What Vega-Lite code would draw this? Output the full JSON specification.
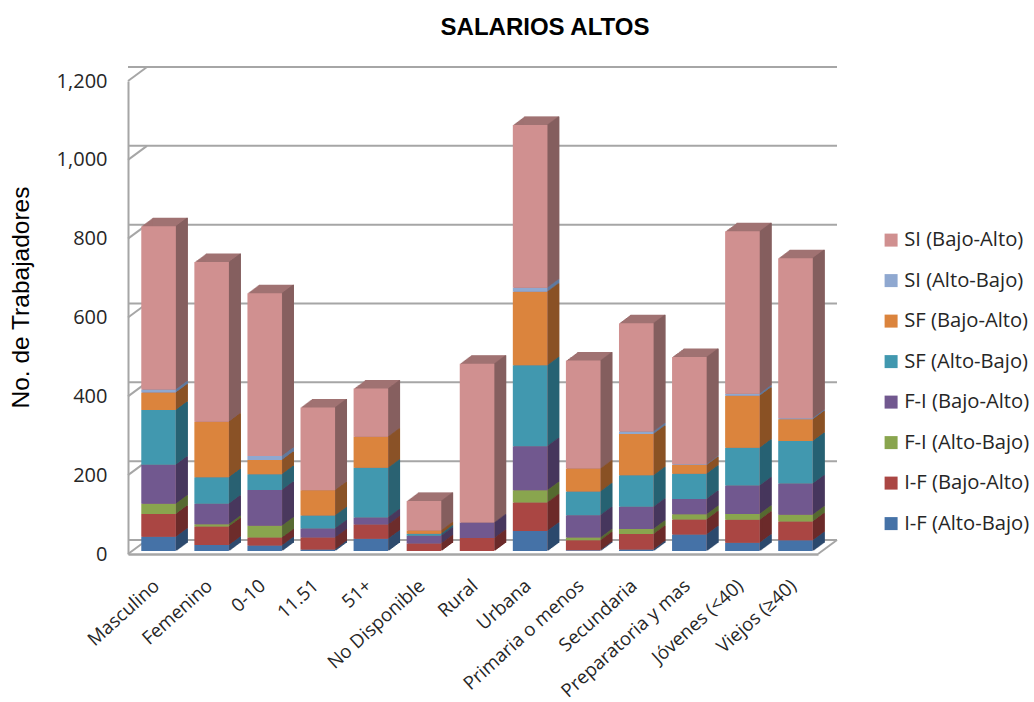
{"$schema":"https://vega.github.io/schema/vega-lite/v6.json","width":690,"height":473,"autosize":{"type":"none"},"padding":{"left":128,"top":81,"right":216,"bottom":148},"background":"white",
"title":{"text":"SALARIOS ALTOS","font":"Liberation Sans","fontSize":24,"fontWeight":"bold","color":"#000000","anchor":"middle","dx":72,"offset":23},
"config":{"view":{"stroke":null},"axis":{"grid":false,"ticks":false}},
"datasets":{
"barras":[
{"categoria":"Masculino","serie":"I-F (Alto-Bajo)","valor":36,"orden":1},{"categoria":"Masculino","serie":"I-F (Bajo-Alto)","valor":58,"orden":2},{"categoria":"Masculino","serie":"F-I (Alto-Bajo)","valor":26,"orden":3},{"categoria":"Masculino","serie":"F-I (Bajo-Alto)","valor":99,"orden":4},{"categoria":"Masculino","serie":"SF (Alto-Bajo)","valor":139,"orden":5},{"categoria":"Masculino","serie":"SF (Bajo-Alto)","valor":44,"orden":6},{"categoria":"Masculino","serie":"SI (Alto-Bajo)","valor":8,"orden":7},{"categoria":"Masculino","serie":"SI (Bajo-Alto)","valor":414,"orden":8},
{"categoria":"Femenino","serie":"I-F (Alto-Bajo)","valor":15,"orden":1},{"categoria":"Femenino","serie":"I-F (Bajo-Alto)","valor":47,"orden":2},{"categoria":"Femenino","serie":"F-I (Alto-Bajo)","valor":6,"orden":3},{"categoria":"Femenino","serie":"F-I (Bajo-Alto)","valor":52,"orden":4},{"categoria":"Femenino","serie":"SF (Alto-Bajo)","valor":67,"orden":5},{"categoria":"Femenino","serie":"SF (Bajo-Alto)","valor":141,"orden":6},{"categoria":"Femenino","serie":"SI (Bajo-Alto)","valor":405,"orden":8},
{"categoria":"0-10","serie":"I-F (Alto-Bajo)","valor":14,"orden":1},{"categoria":"0-10","serie":"I-F (Bajo-Alto)","valor":20,"orden":2},{"categoria":"0-10","serie":"F-I (Alto-Bajo)","valor":30,"orden":3},{"categoria":"0-10","serie":"F-I (Bajo-Alto)","valor":91,"orden":4},{"categoria":"0-10","serie":"SF (Alto-Bajo)","valor":40,"orden":5},{"categoria":"0-10","serie":"SF (Bajo-Alto)","valor":36,"orden":6},{"categoria":"0-10","serie":"SI (Alto-Bajo)","valor":10,"orden":7},{"categoria":"0-10","serie":"SI (Bajo-Alto)","valor":413,"orden":8},
{"categoria":"11.51","serie":"I-F (Alto-Bajo)","valor":4,"orden":1},{"categoria":"11.51","serie":"I-F (Bajo-Alto)","valor":30,"orden":2},{"categoria":"11.51","serie":"F-I (Bajo-Alto)","valor":23,"orden":4},{"categoria":"11.51","serie":"SF (Alto-Bajo)","valor":33,"orden":5},{"categoria":"11.51","serie":"SF (Bajo-Alto)","valor":64,"orden":6},{"categoria":"11.51","serie":"SI (Bajo-Alto)","valor":210,"orden":8},
{"categoria":"51+","serie":"I-F (Alto-Bajo)","valor":31,"orden":1},{"categoria":"51+","serie":"I-F (Bajo-Alto)","valor":36,"orden":2},{"categoria":"51+","serie":"F-I (Bajo-Alto)","valor":18,"orden":4},{"categoria":"51+","serie":"SF (Alto-Bajo)","valor":126,"orden":5},{"categoria":"51+","serie":"SF (Bajo-Alto)","valor":79,"orden":6},{"categoria":"51+","serie":"SI (Bajo-Alto)","valor":122,"orden":8},
{"categoria":"No Disponible","serie":"I-F (Bajo-Alto)","valor":19,"orden":2},{"categoria":"No Disponible","serie":"F-I (Bajo-Alto)","valor":20,"orden":4},{"categoria":"No Disponible","serie":"SF (Alto-Bajo)","valor":5,"orden":5},{"categoria":"No Disponible","serie":"SF (Bajo-Alto)","valor":8,"orden":6},{"categoria":"No Disponible","serie":"SI (Bajo-Alto)","valor":75,"orden":8},
{"categoria":"Rural","serie":"I-F (Bajo-Alto)","valor":33,"orden":2},{"categoria":"Rural","serie":"F-I (Bajo-Alto)","valor":39,"orden":4},{"categoria":"Rural","serie":"SI (Bajo-Alto)","valor":403,"orden":8},
{"categoria":"Urbana","serie":"I-F (Alto-Bajo)","valor":51,"orden":1},{"categoria":"Urbana","serie":"I-F (Bajo-Alto)","valor":72,"orden":2},{"categoria":"Urbana","serie":"F-I (Alto-Bajo)","valor":31,"orden":3},{"categoria":"Urbana","serie":"F-I (Bajo-Alto)","valor":112,"orden":4},{"categoria":"Urbana","serie":"SF (Alto-Bajo)","valor":205,"orden":5},{"categoria":"Urbana","serie":"SF (Bajo-Alto)","valor":187,"orden":6},{"categoria":"Urbana","serie":"SI (Alto-Bajo)","valor":10,"orden":7},{"categoria":"Urbana","serie":"SI (Bajo-Alto)","valor":413,"orden":8},
{"categoria":"Primaria o menos","serie":"I-F (Alto-Bajo)","valor":2,"orden":1},{"categoria":"Primaria o menos","serie":"I-F (Bajo-Alto)","valor":25,"orden":2},{"categoria":"Primaria o menos","serie":"F-I (Alto-Bajo)","valor":7,"orden":3},{"categoria":"Primaria o menos","serie":"F-I (Bajo-Alto)","valor":57,"orden":4},{"categoria":"Primaria o menos","serie":"SF (Alto-Bajo)","valor":60,"orden":5},{"categoria":"Primaria o menos","serie":"SF (Bajo-Alto)","valor":58,"orden":6},{"categoria":"Primaria o menos","serie":"SI (Bajo-Alto)","valor":274,"orden":8},
{"categoria":"Secundaria","serie":"I-F (Alto-Bajo)","valor":4,"orden":1},{"categoria":"Secundaria","serie":"I-F (Bajo-Alto)","valor":39,"orden":2},{"categoria":"Secundaria","serie":"F-I (Alto-Bajo)","valor":13,"orden":3},{"categoria":"Secundaria","serie":"F-I (Bajo-Alto)","valor":56,"orden":4},{"categoria":"Secundaria","serie":"SF (Alto-Bajo)","valor":80,"orden":5},{"categoria":"Secundaria","serie":"SF (Bajo-Alto)","valor":105,"orden":6},{"categoria":"Secundaria","serie":"SI (Alto-Bajo)","valor":6,"orden":7},{"categoria":"Secundaria","serie":"SI (Bajo-Alto)","valor":275,"orden":8},
{"categoria":"Preparatoria y mas","serie":"I-F (Alto-Bajo)","valor":42,"orden":1},{"categoria":"Preparatoria y mas","serie":"I-F (Bajo-Alto)","valor":38,"orden":2},{"categoria":"Preparatoria y mas","serie":"F-I (Alto-Bajo)","valor":13,"orden":3},{"categoria":"Preparatoria y mas","serie":"F-I (Bajo-Alto)","valor":39,"orden":4},{"categoria":"Preparatoria y mas","serie":"SF (Alto-Bajo)","valor":64,"orden":5},{"categoria":"Preparatoria y mas","serie":"SF (Bajo-Alto)","valor":22,"orden":6},{"categoria":"Preparatoria y mas","serie":"SI (Alto-Bajo)","valor":2,"orden":7},{"categoria":"Preparatoria y mas","serie":"SI (Bajo-Alto)","valor":272,"orden":8},
{"categoria":"Jóvenes (<40)","serie":"I-F (Alto-Bajo)","valor":21,"orden":1},{"categoria":"Jóvenes (<40)","serie":"I-F (Bajo-Alto)","valor":58,"orden":2},{"categoria":"Jóvenes (<40)","serie":"F-I (Alto-Bajo)","valor":15,"orden":3},{"categoria":"Jóvenes (<40)","serie":"F-I (Bajo-Alto)","valor":72,"orden":4},{"categoria":"Jóvenes (<40)","serie":"SF (Alto-Bajo)","valor":96,"orden":5},{"categoria":"Jóvenes (<40)","serie":"SF (Bajo-Alto)","valor":132,"orden":6},{"categoria":"Jóvenes (<40)","serie":"SI (Alto-Bajo)","valor":5,"orden":7},{"categoria":"Jóvenes (<40)","serie":"SI (Bajo-Alto)","valor":412,"orden":8},
{"categoria":"Viejos (≥40)","serie":"I-F (Alto-Bajo)","valor":27,"orden":1},{"categoria":"Viejos (≥40)","serie":"I-F (Bajo-Alto)","valor":48,"orden":2},{"categoria":"Viejos (≥40)","serie":"F-I (Alto-Bajo)","valor":17,"orden":3},{"categoria":"Viejos (≥40)","serie":"F-I (Bajo-Alto)","valor":79,"orden":4},{"categoria":"Viejos (≥40)","serie":"SF (Alto-Bajo)","valor":108,"orden":5},{"categoria":"Viejos (≥40)","serie":"SF (Bajo-Alto)","valor":55,"orden":6},{"categoria":"Viejos (≥40)","serie":"SI (Alto-Bajo)","valor":3,"orden":7},{"categoria":"Viejos (≥40)","serie":"SI (Bajo-Alto)","valor":406,"orden":8}
],
"niveles":[{"nivel":0},{"nivel":200},{"nivel":400},{"nivel":600},{"nivel":800},{"nivel":1000},{"nivel":1200}],
"diagonales":[
{"linea":"0","fondo":0,"nivel":0},{"linea":"0","fondo":19,"nivel":35.5},
{"linea":"200","fondo":0,"nivel":200},{"linea":"200","fondo":19,"nivel":235.5},
{"linea":"400","fondo":0,"nivel":400},{"linea":"400","fondo":19,"nivel":435.5},
{"linea":"600","fondo":0,"nivel":600},{"linea":"600","fondo":19,"nivel":635.5},
{"linea":"800","fondo":0,"nivel":800},{"linea":"800","fondo":19,"nivel":835.5},
{"linea":"1000","fondo":0,"nivel":1000},{"linea":"1000","fondo":19,"nivel":1035.5},
{"linea":"1200","fondo":0,"nivel":1200},{"linea":"1200","fondo":19,"nivel":1235.5},
{"linea":"piso","fondo":690,"nivel":0},{"linea":"piso","fondo":709,"nivel":35.5}
]},
"resolve":{"scale":{"x":"independent"}},
"layer":[
{"data":{"name":"niveles"},"mark":{"type":"rule","color":"#a6a6a6","strokeWidth":2,"xOffset":19,"x2Offset":19,"yOffset":-14},"encoding":{"y":{"field":"nivel","type":"quantitative","title":"No. de Trabajadores","scale":{"domain":[0,1200],"nice":false},"axis":{"values":[0,200,400,600,800,1000,1200],"format":",.0f","labelFont":"Open Sans","labelFontSize":20,"labelColor":"#262626","labelPadding":21,"domainColor":"#a6a6a6","domainWidth":2,"titleFont":"Liberation Sans","titleFontSize":24.5,"titleFontWeight":"normal","titleColor":"#000000","titleX":-95,"titleY":216}}}},
{"data":{"name":"diagonales"},"mark":{"type":"line","color":"#a6a6a6","strokeWidth":2},"encoding":{"x":{"field":"fondo","type":"quantitative","scale":{"domain":[0,690],"nice":false,"zero":false},"axis":null},"y":{"field":"nivel","type":"quantitative","title":"No. de Trabajadores"},"detail":{"field":"linea"}}},
{"data":{"name":"barras"},
"encoding":{
"x":{"field":"categoria","type":"nominal","sort":null,"title":null,"scale":{"domain":["Masculino","Femenino","0-10","11.51","51+","No Disponible","Rural","Urbana","Primaria o menos","Secundaria","Preparatoria y mas","Jóvenes (<40)","Viejos (≥40)"],"paddingInner":0.35,"paddingOuter":0.175},"axis":{"labelAngle":-42,"labelAlign":"right","labelBaseline":"top","labelFont":"Open Sans","labelFontSize":18.7,"labelColor":"#262626","labelPadding":22,"labelOffset":-4,"labelLimit":300,"labelOverlap":false,"domainColor":"#a6a6a6","domainWidth":2.5}},
"y":{"field":"valor","type":"quantitative","aggregate":"sum","stack":"zero","title":"No. de Trabajadores"},
"order":{"field":"orden","type":"ordinal","sort":"ascending"}},
"layer":[
{"mark":{"type":"bar","fill":"#a07272","xOffset":5,"yOffset":-3.7,"y2Offset":-3.7}},
{"mark":{"type":"bar","fill":"#a07272","xOffset":6,"yOffset":-4.5,"y2Offset":-4.5}},
{"mark":{"type":"bar","fill":"#a07272","xOffset":7,"yOffset":-5.2,"y2Offset":-5.2}},
{"mark":{"type":"bar","fill":"#a07272","xOffset":8,"yOffset":-6,"y2Offset":-6}},
{"mark":{"type":"bar","fill":"#a07272","xOffset":9,"yOffset":-6.7,"y2Offset":-6.7}},
{"mark":{"type":"bar","fill":"#a07272","xOffset":10,"yOffset":-7.4,"y2Offset":-7.4}},
{"mark":{"type":"bar","fill":"#a07272","xOffset":11,"yOffset":-8.2,"y2Offset":-8.2}},
{"mark":{"type":"bar","fill":"#a07272","xOffset":12,"yOffset":-8.9,"y2Offset":-8.9}},
{"mark":{"type":"bar","fill":"#a07272","xOffset":13,"yOffset":-9.7,"y2Offset":-9.7}},
{"mark":{"type":"bar","fill":"#a07272","xOffset":14,"yOffset":-10.4,"y2Offset":-10.4}},
{"mark":{"type":"bar","fill":"#a07272","xOffset":15,"yOffset":-11.1,"y2Offset":-11.1}},
{"mark":{"type":"bar","fill":"#a07272","xOffset":15.5,"yOffset":-11.5,"y2Offset":-11.5}},
{"encoding":{"fill":{"field":"serie","type":"nominal","legend":null,"scale":{"domain":["I-F (Alto-Bajo)","I-F (Bajo-Alto)","F-I (Alto-Bajo)","F-I (Bajo-Alto)","SF (Alto-Bajo)","SF (Bajo-Alto)","SI (Alto-Bajo)","SI (Bajo-Alto)"],"range":["#2c4a6e","#6c2b2a","#566a30","#47375d","#276273","#8a5225","#5f7a9f","#855f5f"]}}},
"layer":[
{"mark":{"type":"bar","width":1.6,"xOffset":22.25,"yOffset":-3.7,"y2Offset":-3.7}},
{"mark":{"type":"bar","width":1.6,"xOffset":23.25,"yOffset":-4.5,"y2Offset":-4.5}},
{"mark":{"type":"bar","width":1.6,"xOffset":24.25,"yOffset":-5.2,"y2Offset":-5.2}},
{"mark":{"type":"bar","width":1.6,"xOffset":25.25,"yOffset":-6,"y2Offset":-6}},
{"mark":{"type":"bar","width":1.6,"xOffset":26.25,"yOffset":-6.7,"y2Offset":-6.7}},
{"mark":{"type":"bar","width":1.6,"xOffset":27.25,"yOffset":-7.4,"y2Offset":-7.4}},
{"mark":{"type":"bar","width":1.6,"xOffset":28.25,"yOffset":-8.2,"y2Offset":-8.2}},
{"mark":{"type":"bar","width":1.6,"xOffset":29.25,"yOffset":-8.9,"y2Offset":-8.9}},
{"mark":{"type":"bar","width":1.6,"xOffset":30.25,"yOffset":-9.7,"y2Offset":-9.7}},
{"mark":{"type":"bar","width":1.6,"xOffset":31.25,"yOffset":-10.4,"y2Offset":-10.4}},
{"mark":{"type":"bar","width":1.6,"xOffset":32.25,"yOffset":-11.1,"y2Offset":-11.1}},
{"mark":{"type":"bar","width":1,"xOffset":32.75,"yOffset":-11.5,"y2Offset":-11.5}}
]},
{"mark":{"type":"bar","xOffset":4,"yOffset":-3,"y2Offset":-3},
"encoding":{"color":{"field":"serie","type":"nominal","title":null,"scale":{"domain":["SI (Bajo-Alto)","SI (Alto-Bajo)","SF (Bajo-Alto)","SF (Alto-Bajo)","F-I (Bajo-Alto)","F-I (Alto-Bajo)","I-F (Bajo-Alto)","I-F (Alto-Bajo)"],"range":["#d09090","#8fa8d0","#db843d","#4198af","#71588f","#89a54e","#aa4643","#4572a7"]},
"legend":{"orient":"none","legendX":753,"legendY":149,"symbolType":"square","symbolSize":169,"symbolStrokeWidth":0,"labelFont":"Open Sans","labelFontSize":20.2,"labelColor":"#262626","labelOffset":3,"rowPadding":19.5,"labelLimit":200}}}}
]}
]}
